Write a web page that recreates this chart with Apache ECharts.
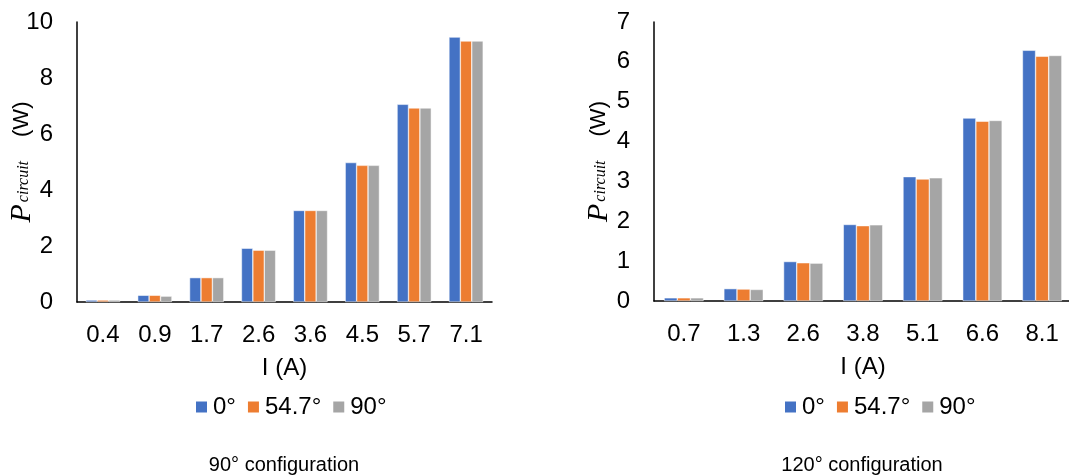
<!DOCTYPE html>
<html><head><meta charset="utf-8">
<script src="https://cdn.jsdelivr.net/npm/echarts@6/dist/echarts.min.js"></script>
<style>html,body{margin:0;padding:0;background:#fff}#c{width:1069px;height:475px}</style>
</head><body><div id="c"></div>
<script>
const seriesNames = ['0°', '54.7°', '90°'];
const catsLeft = ['0.4', '0.9', '1.7', '2.6', '3.6', '4.5', '5.7', '7.1'];
const left0 = [0.07, 0.24, 0.87, 1.92, 3.27, 4.98, 7.06, 9.46];
const left54 = [0.07, 0.24, 0.87, 1.85, 3.27, 4.88, 6.93, 9.32];
const left90 = [0.07, 0.21, 0.87, 1.85, 3.27, 4.88, 6.93, 9.32];
const catsRight = ['0.7', '1.3', '2.6', '3.8', '5.1', '6.6', '8.1'];
const right0 = [0.08, 0.31, 0.99, 1.92, 3.12, 4.59, 6.29];
const right54 = [0.08, 0.30, 0.96, 1.89, 3.06, 4.51, 6.14];
const right90 = [0.08, 0.29, 0.95, 1.91, 3.09, 4.53, 6.16];
const captions = ['90° configuration', '120° configuration'];
const xTitle = 'I (A)';

const colors = ['#4472C4', '#ED7D31', '#A5A5A5'];
const font = 'Liberation Sans, Arial, sans-serif';
const serif = 'Liberation Serif, serif';
const yName = '{p|P}{s|circuit}{w|(W)}';
const yNameRich = {
  p: {fontFamily: serif, fontStyle: 'italic', fontSize: 30, color: '#000', padding: [0, 2, 0, 0]},
  s: {fontFamily: serif, fontStyle: 'italic', fontSize: 16, color: '#000', padding: [3, 0, 0, 0]},
  w: {fontFamily: font, fontSize: 22, color: '#000', padding: [0, 0, 0, 24]}
};
function xAx(gi, cats) {
  return {
    type: 'category', gridIndex: gi, data: cats,
    axisLine: {lineStyle: {color: '#000', width: 1.5}},
    axisTick: {show: false},
    axisLabel: {fontFamily: font, fontSize: 24, color: '#000', margin: 21},
    name: xTitle, nameLocation: 'middle', nameGap: 54, nameMoveOverlap: false,
    nameTextStyle: {fontFamily: font, fontSize: 24, color: '#000'}
  };
}
function yAx(gi, max, interval) {
  return {
    type: 'value', gridIndex: gi, min: 0, max: max, interval: interval,
    axisLine: {show: true, lineStyle: {color: '#000', width: 1.5}},
    axisTick: {show: false},
    splitLine: {show: false},
    axisLabel: {fontFamily: font, fontSize: 24, color: '#000', margin: 24},
    name: yName, nameLocation: 'middle', nameRotate: 90, nameGap: 40, nameMoveOverlap: false,
    nameTextStyle: {rich: yNameRich}
  };
}
const data = [[left0, left54, left90], [right0, right54, right90]];
const series = [];
for (let g = 0; g < 2; g++) {
  for (let i = 0; i < 3; i++) {
    series.push({
      type: 'bar', name: seriesNames[i], xAxisIndex: g, yAxisIndex: g,
      data: data[g][i], barGap: '0%', barCategoryGap: '34%',
      itemStyle: {color: colors[i], borderColor: '#fff', borderWidth: 0.5},
      animation: false
    });
  }
}
const legendText = {fontFamily: font, fontSize: 24, color: '#000'};
const chart = echarts.init(document.getElementById('c'), null, {renderer: 'canvas'});
chart.setOption({
  animation: false,
  color: colors,
  grid: [
    {left: 77, top: 22, width: 415, bottom: 173, containLabel: false, outerBoundsMode: 'none'},
    {left: 654, top: 22, width: 418, bottom: 174, containLabel: false, outerBoundsMode: 'none'}
  ],
  xAxis: [xAx(0, catsLeft), xAx(1, catsRight)],
  yAxis: [yAx(0, 10, 2), yAx(1, 7, 1)],
  legend: [
    {data: seriesNames, left: 194, top: 395, padding: 0, itemWidth: 13, itemHeight: 13, itemGap: 10,
     icon: 'rect', textStyle: legendText},
    {data: seriesNames, left: 783, top: 395, padding: 0, itemWidth: 13, itemHeight: 13, itemGap: 10,
     icon: 'rect', textStyle: legendText}
  ],
  title: [
    {text: captions[0], left: 279, top: 450, textAlign: 'center',
     textStyle: {fontFamily: font, fontSize: 20, fontWeight: 'normal', color: '#000'}},
    {text: captions[1], left: 857, top: 450, textAlign: 'center',
     textStyle: {fontFamily: font, fontSize: 20, fontWeight: 'normal', color: '#000'}}
  ],
  series: series
});
</script></body></html>
